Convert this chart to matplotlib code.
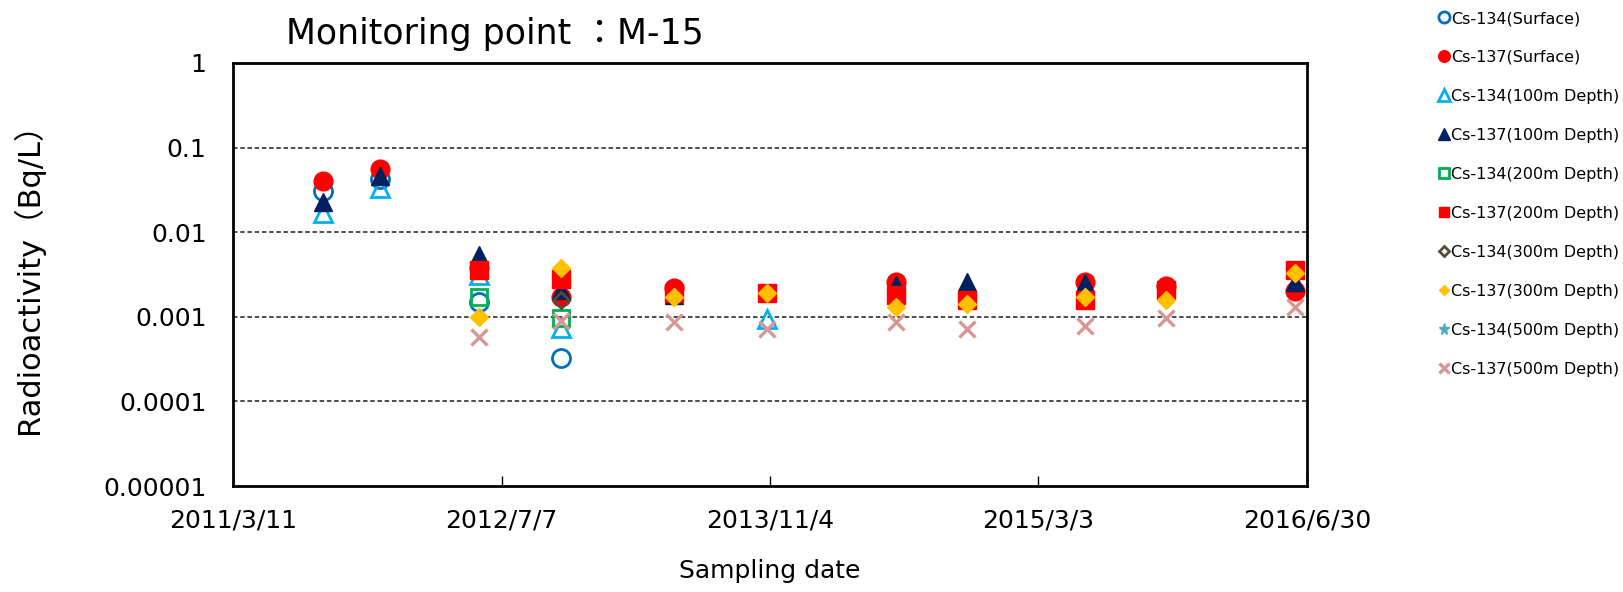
import numpy as np
import pandas as pd
import matplotlib
matplotlib.use("Agg")
import matplotlib.pyplot as plt
import matplotlib.dates as mdates

nan = np.nan

sample_dates = ['2011-08-21', '2011-12-01', '2012-05-28', '2012-10-23', '2013-05-14',
                '2013-10-30', '2014-06-20', '2014-10-25', '2015-05-26', '2015-10-19', '2016-06-08']

cs134_surface = [0.031, 0.043, 0.0015, 0.00033, nan, nan, nan, nan, nan, nan, nan]
cs137_surface = [0.040, 0.056, 0.0038, 0.0017, 0.0022, nan, 0.0026, nan, 0.0026, 0.0023, 0.0020]
cs134_100m = [0.017, 0.033, 0.0031, 0.00073, nan, 0.00095, nan, nan, nan, nan, nan]
cs137_100m = [0.023, 0.046, 0.0054, 0.0021, 0.0018, nan, 0.0024, 0.0026, 0.0025, nan, 0.0026]
cs134_200m = [nan, nan, 0.0017, 0.00097, nan, nan, nan, nan, nan, nan, nan]
cs137_200m = [nan, nan, 0.0036, 0.0028, 0.0019, 0.0019, 0.0018, 0.0016, 0.0016, 0.0021, 0.0036]
cs134_300m = [nan, nan, nan, 0.0016, nan, nan, nan, nan, nan, nan, nan]
cs137_300m = [nan, nan, 0.0010, 0.0038, 0.0017, 0.0019, 0.0013, 0.0014, 0.0017, 0.0016, 0.0033]
cs134_500m = [nan, nan, nan, nan, nan, nan, nan, nan, nan, nan, nan]
cs137_500m = [nan, nan, 0.00057, 0.00090, 0.00086, 0.00072, 0.00086, 0.00072, 0.00078, 0.00097, 0.0013]

series_labels = ['Cs-134(Surface)', 'Cs-137(Surface)', 'Cs-134(100m Depth)', 'Cs-137(100m Depth)',
                 'Cs-134(200m Depth)', 'Cs-137(200m Depth)', 'Cs-134(300m Depth)', 'Cs-137(300m Depth)',
                 'Cs-134(500m Depth)', 'Cs-137(500m Depth)']

x_tick_labels = ['2011/3/11', '2012/7/7', '2013/11/4', '2015/3/3', '2016/6/30']
y_tick_values = [1e-5, 1e-4, 1e-3, 1e-2, 1e-1, 1]
y_tick_labels = ['0.00001', '0.0001', '0.001', '0.01', '0.1', '1']

title_text = 'Monitoring point ：M-15'
xlabel_text = 'Sampling date'
ylabel_text = 'Radioactivity（Bq/L）'

plt.rcParams['font.family'] = ['DejaVu Sans', 'Noto Sans CJK JP']

styles = [
    dict(marker='o', ms=13, mfc='none', mec='#0070C0', mew=2.0),
    dict(marker='o', ms=13.5, mfc='#FF0000', mec='#FF0000', mew=1.0),
    dict(marker='^', ms=13, mfc='none', mec='#00B0F0', mew=2.0),
    dict(marker='^', ms=13.5, mfc='#002060', mec='#002060', mew=1.0),
    dict(marker='s', ms=12, mfc='none', mec='#00B050', mew=2.0),
    dict(marker='s', ms=12.5, mfc='#FF0000', mec='#FF0000', mew=1.0),
    dict(marker='D', ms=8.5, mfc='none', mec='#594A36', mew=2.0),
    dict(marker='D', ms=9, mfc='#FFC000', mec='#FFC000', mew=1.0),
    dict(marker='*', ms=13, mfc='#4BACC6', mec='#4BACC6', mew=1.0),
    dict(marker='x', ms=12, mfc='#D99694', mec='#D99694', mew=2.4),
]

all_series = [cs134_surface, cs137_surface, cs134_100m, cs137_100m, cs134_200m,
              cs137_200m, cs134_300m, cs137_300m, cs134_500m, cs137_500m]

W, H = 1624, 592
fig = plt.figure(figsize=(W / 100, H / 100), dpi=100)
ax = fig.add_axes([233 / W, 1 - 486 / H, (1307 - 233) / W, (486 - 63) / H])

dates = pd.to_datetime(sample_dates)
handles = []
for vals, lab, st in zip(all_series, series_labels, styles):
    h, = ax.plot(dates, vals, linestyle='none', label=lab, **st)
    handles.append(h)

ax.set_yscale('log')
ax.set_ylim(1e-5, 1)
ax.set_yticks(y_tick_values)
ax.set_yticklabels(y_tick_labels)
ax.yaxis.set_minor_locator(matplotlib.ticker.NullLocator())

x0 = mdates.date2num(pd.Timestamp('2011-03-11'))
x1 = mdates.date2num(pd.Timestamp('2016-06-30'))
ax.set_xlim(x0, x1)
ax.set_xticks(np.linspace(x0, x1, len(x_tick_labels)))
ax.set_xticklabels(x_tick_labels)

ax.tick_params(axis='x', direction='in', length=7, width=1.0, pad=16, labelsize=18)
ax.tick_params(axis='y', direction='in', length=0, pad=19, labelsize=18)

for y in y_tick_values[1:-1]:
    ax.axhline(y, color='#404040', lw=1.3, ls=(0, (2.5, 1.5)), zorder=0.5)

for sp in ax.spines.values():
    sp.set_linewidth(2.0)
    sp.set_color('black')

fig.text(286 / W, 1 - 34 / H, title_text, fontsize=25, ha='left', va='center')
fig.text((233 + 1307) / 2 / W, 1 - 571 / H, xlabel_text, fontsize=18, ha='center', va='center')
ax.set_ylabel(ylabel_text, fontsize=22)
ax.yaxis.set_label_coords(-0.176, 0.51)

fig.legend(handles=handles, labels=series_labels, loc='upper left',
           bbox_to_anchor=(1439 / W, 1 - 11 / H), frameon=False, fontsize=11.5,
           markerscale=0.62, handlelength=0.6, handletextpad=0.15, borderpad=0,
           borderaxespad=0, labelspacing=1.5)

fig.savefig('out.png', dpi=100)
